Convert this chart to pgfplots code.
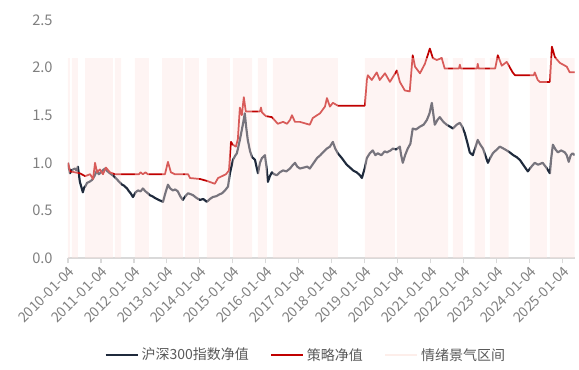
\documentclass[border=0pt]{standalone}
\usepackage{fontspec}
\setmainfont{Noto Sans CJK SC}
\usepackage{pgfplots}
\pgfplotsset{compat=1.18}
\definecolor{navy}{HTML}{1F2A3C}
\definecolor{redl}{HTML}{C00000}
\definecolor{band}{HTML}{FCE4E0}
\definecolor{bandleg}{HTML}{FDEEEA}
\definecolor{tickgray}{HTML}{808080}
\definecolor{leggray}{HTML}{595959}
\definecolor{axgray}{HTML}{D9D9D9}
\begin{document}
\begin{tikzpicture}
\path (-51pt,-83.25pt) rectangle (383.25pt,193.5pt);
\begin{axis}[at={(0,0)}, anchor=south west, scale only axis,
  width=380pt, height=178.5pt,
  xmin=2010, xmax=2025.36, ymin=0, ymax=2.5,
  axis x line*=bottom, axis y line*=left,
  x axis line style={axgray, line width=0.8pt, -},
  y axis line style={draw=none},
  ytick={0,0.5,...,2.5},
  ytick style={draw=none},
  yticklabel style={font=\fontsize{11}{11}\selectfont, color=tickgray, xshift=-4pt, /pgf/number format/.cd, fixed, fixed zerofill, precision=1},
  /pgf/number format/assume math mode=true,
  xtick={2010,2011,...,2025},
  xticklabels={2010-01-04,2011-01-04,2012-01-04,2013-01-04,2014-01-04,2015-01-04,2016-01-04,2017-01-04,2018-01-04,2019-01-04,2020-01-04,2021-01-04,2022-01-04,2023-01-04,2024-01-04,2025-01-04},
  xticklabel style={rotate=45, anchor=north east, font=\fontsize{10.5}{10.5}\selectfont, color=tickgray, inner sep=1pt},
  xtick style={axgray, line width=0.8pt},
  tick align=outside, major tick length=4pt,
  legend style={at={(0.47,-0.408)}, anchor=center, draw=none, fill=none,
    font=\fontsize{10.5}{10.5}\selectfont, text=leggray,
    /tikz/every even column/.append style={column sep=14pt}},
  legend columns=3,
  legend image code/.code={\draw[#1] (0cm,0cm) -- (0.85cm,0cm);},
]
\addplot[navy, line width=1.6pt, line join=round] coordinates {
(2010.00,1.00) (2010.06,0.89) (2010.10,0.92) (2010.15,0.93) (2010.21,0.94) (2010.26,0.92) (2010.30,0.96) (2010.36,0.80) (2010.41,0.74) (2010.45,0.69) (2010.49,0.74) (2010.52,0.75) (2010.58,0.79) (2010.65,0.80) (2010.73,0.82) (2010.80,0.86) (2010.88,0.92) (2010.93,0.88) (2010.97,0.89) (2011.05,0.92) (2011.12,0.94) (2011.20,0.91) (2011.27,0.89) (2011.35,0.87) (2011.42,0.85) (2011.50,0.82) (2011.58,0.79) (2011.64,0.77) (2011.70,0.76) (2011.79,0.73) (2011.85,0.70) (2011.90,0.68) (2011.97,0.64) (2012.05,0.69) (2012.12,0.71) (2012.20,0.70) (2012.27,0.73) (2012.35,0.70) (2012.42,0.68) (2012.48,0.66) (2012.55,0.65) (2012.64,0.63) (2012.70,0.62) (2012.75,0.61) (2012.82,0.60) (2012.88,0.59) (2012.95,0.68) (2013.03,0.77) (2013.10,0.73) (2013.18,0.71) (2013.25,0.72) (2013.33,0.70) (2013.40,0.65) (2013.48,0.61) (2013.56,0.65) (2013.64,0.68) (2013.72,0.67) (2013.79,0.66) (2013.90,0.63) (2014.00,0.61) (2014.10,0.62) (2014.21,0.59) (2014.30,0.62) (2014.39,0.64) (2014.50,0.65) (2014.60,0.67) (2014.67,0.68) (2014.76,0.71) (2014.85,0.75) (2014.91,0.89) (2015.00,1.03) (2015.06,1.07) (2015.12,1.10) (2015.21,1.24) (2015.30,1.40) (2015.36,1.52) (2015.40,1.38) (2015.45,1.24) (2015.52,1.12) (2015.58,1.06) (2015.67,1.03) (2015.72,0.95) (2015.76,0.89) (2015.82,1.00) (2015.88,1.05) (2015.97,1.08) (2016.02,0.95) (2016.06,0.80) (2016.12,0.86) (2016.18,0.90) (2016.25,0.88) (2016.33,0.87) (2016.42,0.90) (2016.52,0.92) (2016.62,0.91) (2016.73,0.94) (2016.80,0.97) (2016.88,1.00) (2016.95,0.96) (2017.03,0.94) (2017.15,0.95) (2017.25,0.96) (2017.33,0.94) (2017.45,1.00) (2017.55,1.05) (2017.65,1.08) (2017.73,1.11) (2017.85,1.15) (2017.94,1.17) (2018.03,1.22) (2018.10,1.15) (2018.18,1.10) (2018.30,1.05) (2018.45,0.98) (2018.55,0.95) (2018.64,0.92) (2018.75,0.90) (2018.85,0.87) (2018.91,0.84) (2019.00,0.95) (2019.06,1.05) (2019.15,1.10) (2019.24,1.13) (2019.32,1.08) (2019.39,1.10) (2019.50,1.08) (2019.60,1.12) (2019.67,1.11) (2019.78,1.13) (2019.85,1.15) (2019.95,1.14) (2020.06,1.17) (2020.10,1.08) (2020.15,1.00) (2020.22,1.08) (2020.30,1.15) (2020.38,1.20) (2020.45,1.36) (2020.55,1.35) (2020.67,1.38) (2020.78,1.40) (2020.88,1.45) (2020.96,1.52) (2021.03,1.63) (2021.08,1.50) (2021.12,1.40) (2021.20,1.45) (2021.27,1.48) (2021.38,1.43) (2021.48,1.40) (2021.58,1.38) (2021.67,1.36) (2021.78,1.40) (2021.88,1.42) (2021.95,1.38) (2022.03,1.31) (2022.10,1.22) (2022.18,1.11) (2022.27,1.08) (2022.35,1.16) (2022.42,1.24) (2022.50,1.19) (2022.58,1.15) (2022.65,1.08) (2022.73,1.00) (2022.80,1.05) (2022.88,1.10) (2023.00,1.14) (2023.09,1.17) (2023.20,1.15) (2023.30,1.13) (2023.39,1.11) (2023.50,1.08) (2023.60,1.06) (2023.70,1.03) (2023.80,0.98) (2023.94,0.91) (2024.05,0.96) (2024.15,1.00) (2024.25,0.98) (2024.39,1.00) (2024.50,0.95) (2024.61,0.89) (2024.65,1.05) (2024.70,1.19) (2024.78,1.14) (2024.85,1.11) (2024.95,1.13) (2025.06,1.11) (2025.12,1.08) (2025.18,1.01) (2025.24,1.08) (2025.30,1.10) (2025.36,1.08)
};
\addlegendentry{沪深300指数净值}
\addplot[redl, line width=1.3pt, line join=round] coordinates {
(2010.00,1.00) (2010.06,0.91) (2010.21,0.90) (2010.36,0.89) (2010.52,0.86) (2010.67,0.88) (2010.76,0.83) (2010.82,1.00) (2010.88,0.90) (2010.97,0.93) (2011.06,0.88) (2011.15,0.95) (2011.27,0.90) (2011.42,0.88) (2012.15,0.88) (2012.20,0.90) (2012.27,0.88) (2012.35,0.90) (2012.42,0.88) (2012.94,0.88) (2013.03,1.01) (2013.12,0.90) (2013.24,0.88) (2013.64,0.88) (2013.70,0.84) (2014.00,0.83) (2014.21,0.81) (2014.45,0.78) (2014.55,0.84) (2014.67,0.86) (2014.79,0.88) (2014.88,0.92) (2014.94,1.22) (2015.00,1.19) (2015.09,1.17) (2015.15,1.25) (2015.21,1.58) (2015.27,1.50) (2015.33,1.69) (2015.39,1.54) (2015.82,1.54) (2015.85,1.58) (2015.88,1.53) (2016.00,1.49) (2016.18,1.48) (2016.36,1.41) (2016.52,1.43) (2016.64,1.41) (2016.73,1.45) (2016.79,1.50) (2016.88,1.43) (2017.03,1.43) (2017.33,1.40) (2017.42,1.47) (2017.64,1.52) (2017.79,1.59) (2017.85,1.68) (2017.94,1.59) (2018.03,1.63) (2018.18,1.60) (2019.00,1.60) (2019.06,1.87) (2019.09,1.92) (2019.21,1.87) (2019.36,1.95) (2019.45,1.87) (2019.61,1.94) (2019.76,1.85) (2019.97,1.97) (2020.06,1.85) (2020.21,1.76) (2020.36,1.75) (2020.45,2.13) (2020.52,2.01) (2020.67,1.94) (2020.82,2.04) (2020.97,2.20) (2021.06,2.10) (2021.18,2.08) (2021.33,2.10) (2021.42,1.99) (2021.85,1.99) (2021.88,2.03) (2021.91,1.99) (2022.40,1.99) (2022.42,2.04) (2022.45,1.99) (2022.95,1.99) (2023.03,2.13) (2023.15,2.02) (2023.30,2.06) (2023.48,1.95) (2023.55,1.92) (2024.12,1.92) (2024.15,1.95) (2024.24,1.87) (2024.30,1.85) (2024.61,1.85) (2024.67,2.22) (2024.76,2.11) (2024.91,2.05) (2025.12,2.01) (2025.21,1.95) (2025.36,1.95)
};
\addlegendentry{策略净值}
\addplot[const plot, draw=none, fill=band, fill opacity=0.4,
  legend image code/.code={\draw[bandleg, line width=1.5pt] (0cm,0cm) -- (0.85cm,0cm);}] coordinates {
(2010.00,2.1) (2010.06,0) (2010.12,2.1) (2010.30,0) (2010.52,2.1) (2011.36,0) (2011.42,2.1) (2011.61,0) (2012.03,2.1) (2012.45,0) (2012.85,2.1) (2013.48,0) (2013.55,2.1) (2013.97,0) (2014.21,2.1) (2014.91,0) (2015.00,2.1) (2015.58,0) (2015.76,2.1) (2016.03,0) (2016.21,2.1) (2018.18,0) (2019.00,2.1) (2019.91,0) (2019.97,2.1) (2021.52,0) (2021.67,2.1) (2021.97,0) (2022.33,2.1) (2022.64,0) (2022.79,2.1) (2023.36,0) (2024.00,2.1) (2024.52,0) (2024.61,2.1) (2025.36,2.1)
} \closedcycle;
\addlegendentry{情绪景气区间}
\end{axis}
\end{tikzpicture}
\end{document}
